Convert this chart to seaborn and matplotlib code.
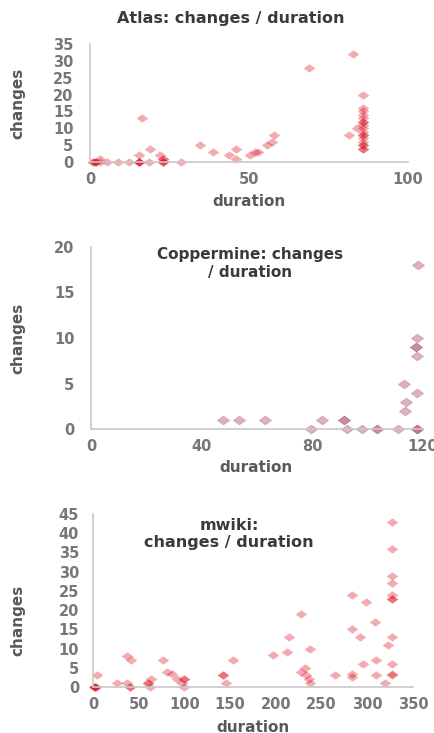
import numpy as np
import pandas as pd
import matplotlib
matplotlib.use("Agg")
import matplotlib.pyplot as plt
import seaborn as sns

# ---------------- data ----------------
atlas_duration = [1, 1, 1.5, 2, 2, 3, 3, 5.5, 8.7, 12.3, 15.5, 15.5, 15.5, 15.5, 15.5,
                  16.5, 18.6, 19, 22.8, 22.8, 22.8, 22.8, 22.8, 22, 28.5, 34.5, 38.7,
                  43.7, 45.8, 45.8, 50.3, 52, 52.8, 55.7, 57.3, 57.8, 68.8, 82.7, 81.3,
                  84, 86, 86, 86, 86, 86, 86, 86, 86, 86, 86, 86, 86, 86, 86, 86, 86, 86, 86]
atlas_changes = [0, 0, 0, 0, 0, 0, 1, 0, 0, 0, 0, 0, 0, 0, 2,
                 13, 0, 4, 0, 0, 0, 1, 1, 2, 0, 5, 3,
                 2, 4, 1, 2, 3, 3, 5, 6, 8, 28, 32, 8,
                 10, 20, 4, 4, 5, 6, 7, 8, 9, 10, 11, 12, 13, 14, 15, 16, 5, 8, 12]

copper_duration = [47.6, 53.6, 62.9, 79.4, 83.4, 91.4, 91.4, 92.4, 97.8, 103.3, 103.3,
                   111, 113.2, 114, 113.5, 117.7, 117.7, 117.5, 117.5, 117.7, 118.3, 118, 118, 118]
copper_changes = [1, 1, 1, 0, 1, 1, 1, 0, 0, 0, 0,
                  0, 5, 3, 2, 4, 8, 9, 9, 10, 18, 0, 0, 0]

mwiki_duration = [2, 2, 2, 3, 1, 4, 26, 37, 42, 40, 40, 37, 60.5, 60.5, 63.9, 62, 77, 80.6, 86,
                  91.5, 100, 100, 100, 97, 142.6, 142.6, 146, 153.5, 197, 212, 214.7, 228,
                  228, 231.7, 233, 236, 237.4, 237, 264.8, 283, 283, 283, 283, 292, 295.6,
                  298.7, 308.5, 310, 310, 319.5, 323, 326.5, 326.5, 326.5, 326.5, 326.5,
                  326.5, 326.5, 326.5, 326.5, 326.5, 326.5]
mwiki_changes = [0, 0, 0, 0, 0, 3, 1, 8, 7, 0, 0, 1, 1, 1, 2, 0, 7, 4, 3.5,
                 2, 2, 2, 0, 1, 3, 3, 1, 7, 8.3, 9, 13, 19,
                 4, 5, 3, 2, 10, 1, 3, 2.7, 3.5, 24, 15, 13, 6,
                 22, 17, 7, 3, 1, 11, 43,
                 36, 29, 27, 24, 23, 23, 13, 6, 3.5, 3]

atlas_xticks = [0, 50, 100]
atlas_yticks = [0, 5, 10, 15, 20, 25, 30, 35]
copper_xticks = [0, 40, 80, 120]
copper_yticks = [0, 5, 10, 15, 20]
mwiki_xticks = [0, 50, 100, 150, 200, 250, 300, 350]
mwiki_yticks = [0, 5, 10, 15, 20, 25, 30, 35, 40, 45]

# ---------------- style ----------------
sns.set_style("white")
plt.rcParams["font.family"] = ["DejaVu Sans"]
TXT = "#595959"
TICK = "#777777"
TITLE = "#3a3a3a"
AX = "#c8c8c8"

W, H = 435, 733
fig = plt.figure(figsize=(W / 100, H / 100), dpi=100)

diamond = [(-1, 0), (0, 0.72), (1, 0), (0, -0.72), (-1, 0)]


def px_axes(left, top, right, bottom):
    return fig.add_axes([left / W, (H - bottom) / H, (right - left) / W, (bottom - top) / H])


def style(ax, xticks, yticks, xlim, ylim, ypad):
    ax.set_xlim(*xlim)
    ax.set_ylim(*ylim)
    ax.set_xticks(xticks)
    ax.set_yticks(yticks)
    for s in ["top", "right"]:
        ax.spines[s].set_visible(False)
    for s in ["left", "bottom"]:
        ax.spines[s].set_color(AX)
        ax.spines[s].set_linewidth(1.2)
    ax.tick_params(axis="both", length=0, labelsize=10.5, colors=TICK)
    ax.tick_params(axis="y", pad=ypad)
    ax.tick_params(axis="x", pad=7)
    for lab in ax.get_xticklabels() + ax.get_yticklabels():
        lab.set_fontweight("bold")
    ax.set_xlabel("")
    ax.set_ylabel("")


def label(x, y, s, rot=0, size=11, color=TXT):
    fig.text(x / W, 1 - y / H, s, rotation=rot, ha="center", va="center",
             fontsize=size, fontweight="bold", color=color, linespacing=1.25)


# Panel 1: Atlas
df1 = pd.DataFrame({"duration": atlas_duration, "changes": atlas_changes})
ax1 = px_axes(90, 44, 408, 162)
sns.scatterplot(data=df1, x="duration", y="changes", ax=ax1, marker=diamond, s=70,
                color="#d80010", alpha=0.33, linewidth=0, clip_on=False)
style(ax1, atlas_xticks, atlas_yticks, (0, 100), (0, 35), 12)
label(231, 18, "Atlas: changes / duration", size=11.5, color=TITLE)
label(18, 103, "changes", rot=90)
label(249, 202, "duration")

# Panel 2: Coppermine
df2 = pd.DataFrame({"duration": copper_duration, "changes": copper_changes})
ax2 = px_axes(91, 247, 423, 429)
sns.scatterplot(data=df2, x="duration", y="changes", ax=ax2, marker=diamond, s=75,
                color="#c8607e", alpha=0.5, edgecolor="#9a8090", linewidth=0.6, clip_on=False)
style(ax2, copper_xticks, copper_yticks, (0, 120), (0, 20), 12)
label(250, 264, "Coppermine: changes\n/ duration", size=11, color=TITLE)
label(18, 338, "changes", rot=90)
label(256, 468, "duration")

# Panel 3: mwiki
df3 = pd.DataFrame({"duration": mwiki_duration, "changes": mwiki_changes})
ax3 = px_axes(93, 514, 413, 687)
sns.scatterplot(data=df3, x="duration", y="changes", ax=ax3, marker=diamond, s=70,
                color="#d80010", alpha=0.33, linewidth=0, clip_on=False)
style(ax3, mwiki_xticks, mwiki_yticks, (0, 350), (0, 45), 10)
label(229, 534, "mwiki:\nchanges / duration", size=11.5, color=TITLE)
label(18, 620, "changes", rot=90)
label(253, 727, "duration")

fig.savefig("out.png", dpi=100)
